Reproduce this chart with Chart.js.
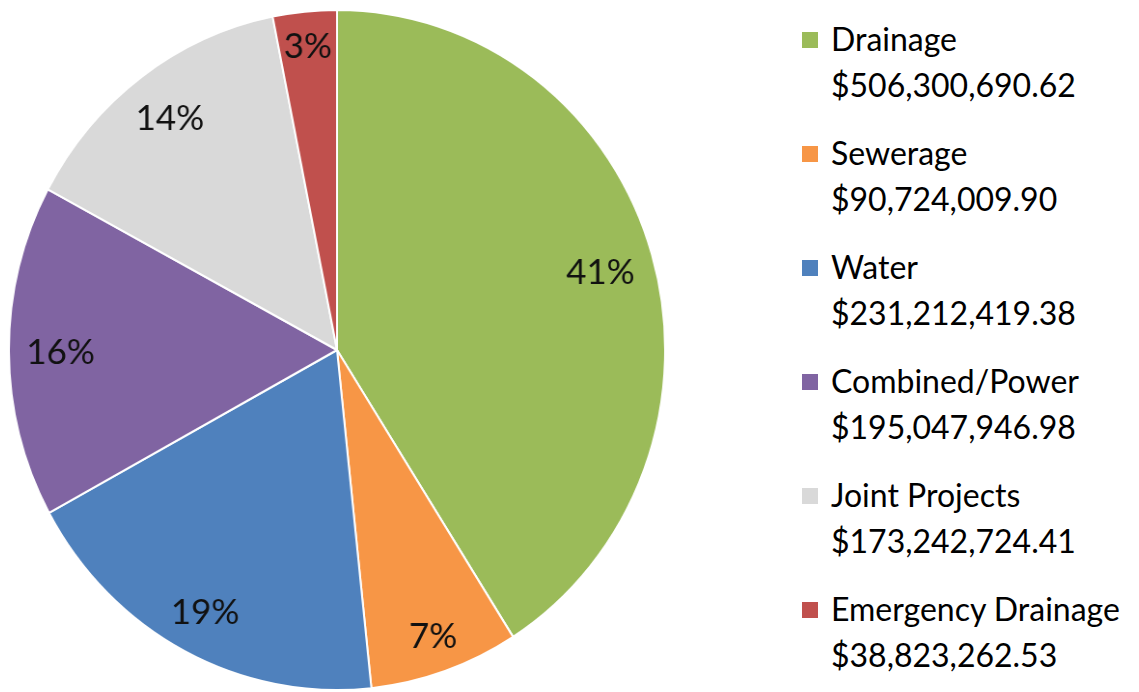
<!DOCTYPE html>
<html>
<head>
<meta charset="utf-8">
<script src="https://cdn.jsdelivr.net/npm/chart.js@4"></script>
<style>
    html, body {
        margin: 0;
        padding: 0;
        background: #fff;
        width: 1139px;
        height: 692px;
        overflow: hidden;
        font-family: Lato, "Open Sans", sans-serif;
    }
    #pieWrap {
        position: absolute;
        left: -4px;
        top: 9px;
        width: 682px;
        height: 682px;
        transform: scaleX(0.965);
        transform-origin: 50% 50%;
    }
    #legend {
        position: absolute;
        left: 802px;
        top: 16px;
    }
    .legend-item {
        position: relative;
        height: 114px;
        padding-left: 29px;
        font-size: 32px;
        line-height: 46px;
        color: #000;
        white-space: nowrap;
    }
    .legend-box {
        position: absolute;
        left: 0;
        top: 16px;
        width: 16px;
        height: 16px;
    }
</style>
</head>
<body>
<div id="pieWrap"><canvas id="pieChart" width="682" height="682"></canvas></div>
<div id="legend"></div>

<script>
// Chart data
const categories = ['Drainage', 'Sewerage', 'Water', 'Combined/Power', 'Joint Projects', 'Emergency Drainage'];
const amounts = [506300690.62, 90724009.90, 231212419.38, 195047946.98, 173242724.41, 38823262.53];
const amountLabels = ['$506,300,690.62', '$90,724,009.90', '$231,212,419.38', '$195,047,946.98', '$173,242,724.41', '$38,823,262.53'];
const sliceColors = ['#9BBB59', '#F79646', '#4F81BD', '#8064A2', '#D9D9D9', '#C0504D'];

// horizontal squash of the pie (reference is slightly oval)
const SQUASH = 0.965;

// Percent labels drawn inside the outer edge of each slice
const percentLabels = {
    id: 'percentLabels',
    afterDatasetsDraw(chart) {
        const ctx = chart.ctx;
        const meta = chart.getDatasetMeta(0);
        const total = amounts.reduce((a, b) => a + b, 0);
        ctx.save();
        ctx.font = '35px Lato, "Open Sans", sans-serif';
        ctx.fillStyle = '#111';
        ctx.textAlign = 'center';
        ctx.textBaseline = 'middle';
        meta.data.forEach((arc, i) => {
            const p = arc.getProps(['x', 'y', 'startAngle', 'endAngle', 'outerRadius'], true);
            const mid = (p.startAngle + p.endAngle) / 2;
            const text = Math.round(amounts[i] / total * 100) + '%';
            const w = ctx.measureText(text).width / SQUASH;
            const h = 25;
            const cx = Math.cos(mid), cy = Math.sin(mid);
            const d = p.outerRadius - 18 - (Math.abs(cx) * w / 2 + Math.abs(cy) * h / 2);
            ctx.save();
            ctx.translate(p.x + cx * d, p.y + cy * d);
            ctx.scale(1 / SQUASH, 1);
            ctx.fillText(text, 0, 2);
            ctx.restore();
        });
        ctx.restore();
    }
};

function initPieChart() {
    const pieCtx = document.getElementById('pieChart');
    if (!pieCtx) return;

    new Chart(pieCtx, {
        type: 'pie',
        data: {
            labels: categories,
            datasets: [{
                data: amounts,
                backgroundColor: sliceColors,
                borderColor: '#ffffff',
                borderWidth: 2
            }]
        },
        options: {
            responsive: false,
            animation: false,
            layout: { padding: 0 },
            plugins: {
                legend: { display: false },
                tooltip: { enabled: false }
            }
        },
        plugins: [percentLabels]
    });
}

// Legend on the right
function initLegend() {
    const legend = document.getElementById('legend');
    categories.forEach((name, i) => {
        const item = document.createElement('div');
        item.className = 'legend-item';
        item.innerHTML = `<span class="legend-box" style="background:${sliceColors[i]}"></span>${name}<br>${amountLabels[i]}`;
        legend.appendChild(item);
    });
}

initPieChart();
initLegend();
</script>
</body>
</html>
